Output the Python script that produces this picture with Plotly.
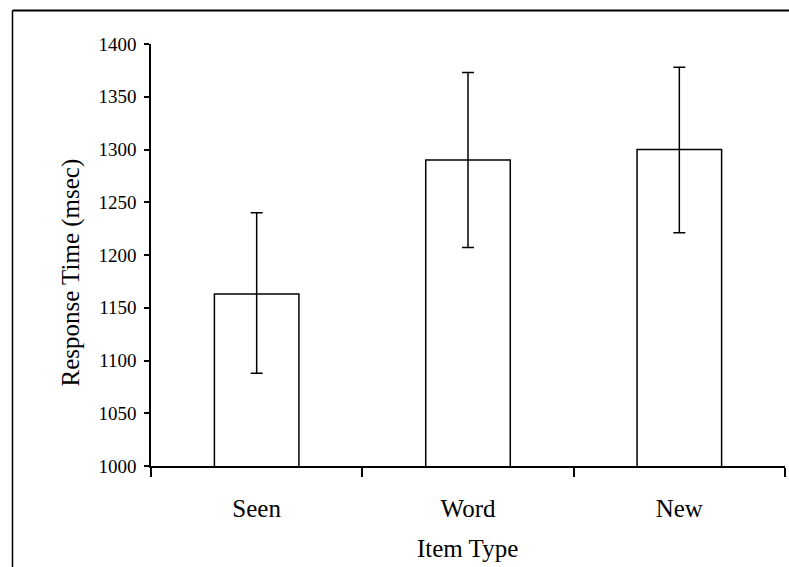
import plotly.graph_objects as go

categories = ["Seen", "Word", "New"]
means = [1163, 1290, 1300]
err_plus = [77, 83, 78]
err_minus = [75, 83, 79]
y_ticks = [1000, 1050, 1100, 1150, 1200, 1250, 1300, 1350, 1400]

FONT = "Liberation Serif"

fig = go.Figure()
fig.add_trace(go.Bar(
    x=categories, y=means, width=0.4,
    marker=dict(color="white", line=dict(color="black", width=1.5)),
    error_y=dict(type="data", symmetric=False, array=err_plus, arrayminus=err_minus,
                 color="black", thickness=1.5, width=6),
))

W, H = 789, 567
l, r, t, b = 151, 4, 44, 101
pw, ph = W - l - r, H - t - b
x0 = (12.5 - l) / pw
y1 = (H - b - 10.5) / ph

def px_x(px):
    return (px - l) / pw

def px_y(py):
    return (H - b - py) / ph

fig.update_layout(
    width=W, height=H,
    margin=dict(l=l, r=r, t=t, b=b),
    paper_bgcolor="white", plot_bgcolor="white",
    font=dict(family=FONT, color="black"),
    showlegend=False,
    xaxis=dict(
        type="category", range=[-0.5, 2.5],
        showline=True, linecolor="black", linewidth=1.5,
        ticks="outside", ticklen=9, tickwidth=1.5, tickcolor="black",
        tickson="boundaries", showgrid=False, zeroline=False,
        tickfont=dict(size=25, family=FONT), ticklabelstandoff=19,
    ),
    yaxis=dict(
        range=[1000, 1400], tickvals=y_ticks,
        showline=True, linecolor="black", linewidth=1.5,
        ticks="outside", ticklen=5, tickwidth=1.5, tickcolor="black",
        showgrid=False, zeroline=False,
        tickfont=dict(size=19, family=FONT), ticklabelstandoff=4,
    ),
    annotations=[
        dict(text="Item Type", xref="paper", yref="paper", x=px_x(467), y=px_y(548),
             xanchor="center", yanchor="middle", showarrow=False,
             font=dict(size=25, family=FONT, color="black")),
        dict(text="Response Time (msec)", xref="paper", yref="paper", x=px_x(70.5), y=px_y(273),
             xanchor="center", yanchor="middle", showarrow=False, textangle=-90,
             font=dict(size=25, family=FONT, color="black")),
    ],
    shapes=[
        dict(type="line", xref="paper", yref="paper", x0=x0, x1=x0, y0=-0.5, y1=y1,
             line=dict(color="black", width=1.5)),
        dict(type="line", xref="paper", yref="paper", x0=x0, x1=1.1, y0=y1, y1=y1,
             line=dict(color="black", width=2)),
    ],
)

fig.write_html("out.html")
